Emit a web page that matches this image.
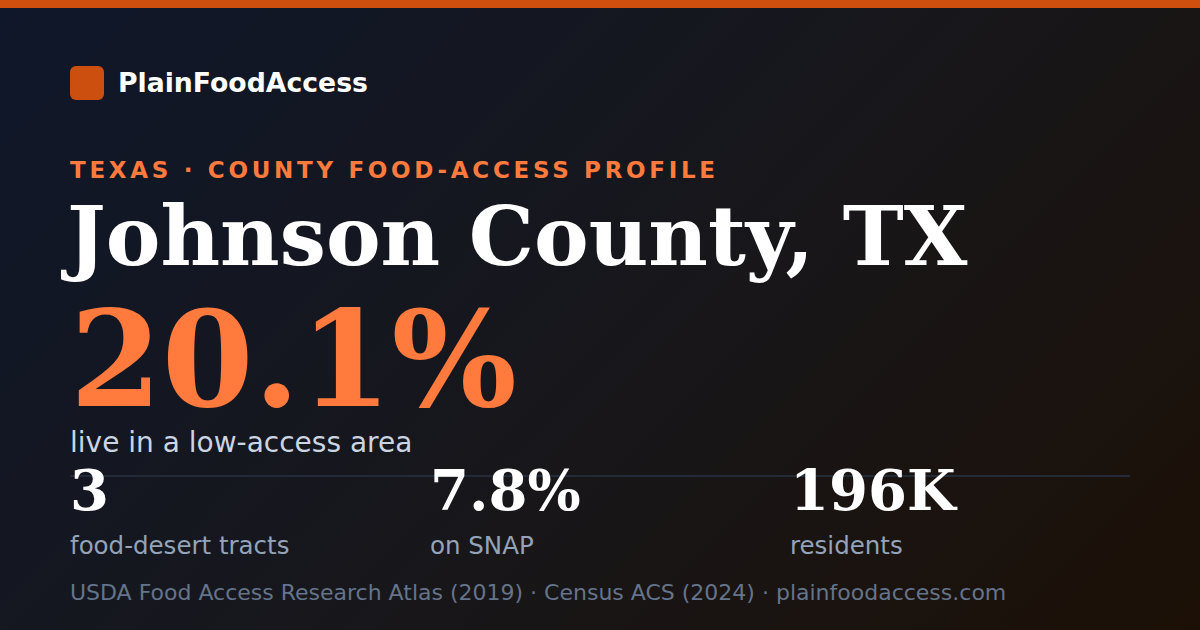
<!DOCTYPE html>
<html lang="en">
<head>
<meta charset="UTF-8">
<script src="https://cdn.jsdelivr.net/npm/chart.js"></script>
<title>Johnson County, TX | PlainFoodAccess</title>
<style>
  html, body { margin: 0; padding: 0; }
  #card {
    position: relative; width: 1200px; height: 630px; overflow: hidden;
    background: linear-gradient(135deg, #0f172a 0%, #17171c 50%, #1c1006 100%);
    font-family: "DejaVu Sans", sans-serif;
  }
  #topbar { position: absolute; left: 0; top: 0; width: 1200px; height: 8px; background: #cf500e; }
  .abs { position: absolute; line-height: 1; white-space: nowrap; }
  #logo_box { left: 70px; top: 66px; width: 34px; height: 34px; border-radius: 6px; background: #cc4f0f; }
  #brand { left: 118px; top: 70px; font-size: 26.7px; font-weight: bold; color: #ffffff; }
  #kicker { left: 70px; top: 159px; font-size: 23px; font-weight: bold; color: #ff7a3c; letter-spacing: 3.7px; }
  #title { left: 67px; top: 195px; font-family: "DejaVu Serif", serif; font-weight: bold; font-size: 82px; color: #ffffff; }
  #headline { left: 70px; top: 304px; font-family: "DejaVu Serif", serif; font-weight: bold; font-size: 132px; line-height: 0.85; color: #ff7a3c; }
  #headline_label { left: 70px; top: 429px; font-size: 28px; color: #cbd5e1; }
  #divider { left: 70px; top: 475px; width: 1060px; height: 2px; background: #232b38; }
  .stat { position: absolute; top: 462px; }
  .stat_value { font-family: "DejaVu Serif", serif; font-weight: bold; font-size: 56px; color: #ffffff; line-height: 1; }
  .stat_label { margin-top: 16px; font-size: 24.5px; color: #94a3b8; line-height: 1; white-space: nowrap; }
  #source { left: 70px; top: 582px; font-size: 22px; color: #64748b; }
</style>
</head>
<body>
<div id="card">
  <div id="topbar"></div>
  <div id="logo_box" class="abs"></div>
  <div id="brand" class="abs"></div>
  <div id="kicker" class="abs"></div>
  <div id="title" class="abs"></div>
  <div id="headline" class="abs"></div>
  <div id="headline_label" class="abs"></div>
  <div id="divider" class="abs"></div>
  <div id="stats"></div>
  <div id="source" class="abs"></div>
</div>
<script>
  var brandName = 'PlainFoodAccess'
  var kickerText = 'TEXAS · COUNTY FOOD-ACCESS PROFILE'
  var countyName = 'Johnson County, TX'
  var lowAccessShare = '20.1%'
  var lowAccessLabel = 'live in a low-access area'

  // the three smaller figures under the line
  var statValues = ['3', '7.8%', '196K']
  var statLabels = ['food-desert tracts', 'on SNAP', 'residents']
  var statLefts = [70, 430, 790]

  var sourceParts = ['USDA Food Access Research Atlas (2019)', 'Census ACS (2024)', 'plainfoodaccess.com']

  document.getElementById('brand').textContent = brandName
  document.getElementById('kicker').textContent = kickerText
  document.getElementById('title').textContent = countyName
  document.getElementById('headline').textContent = lowAccessShare
  document.getElementById('headline_label').textContent = lowAccessLabel
  document.getElementById('source').textContent = sourceParts.join(' · ')

  var statsBox = document.getElementById('stats')
  for (let i = 0; i < statValues.length; i++) {
    var stat = document.createElement('div')
    stat.className = 'stat'
    stat.style.left = statLefts[i] + 'px'

    var value = document.createElement('div')
    value.className = 'stat_value'
    value.textContent = statValues[i]

    var label = document.createElement('div')
    label.className = 'stat_label'
    label.textContent = statLabels[i]

    stat.appendChild(value)
    stat.appendChild(label)
    statsBox.appendChild(stat)
  }
</script>
</body>
</html>
